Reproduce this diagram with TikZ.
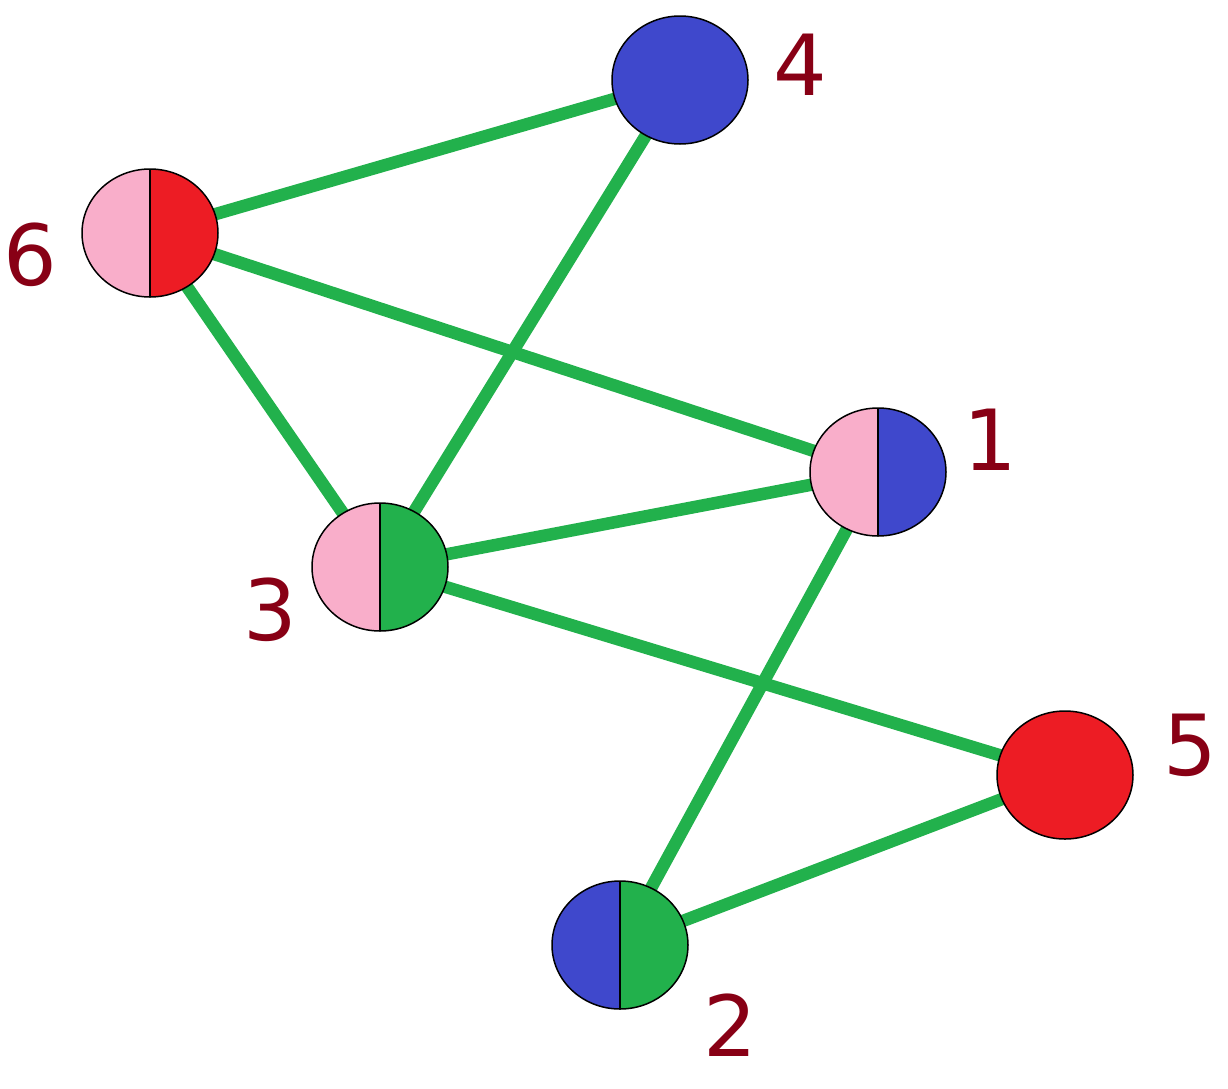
\documentclass[tikz,border=0pt]{standalone}
\usepackage{fontspec}
\setmainfont{DejaVu Sans}
\definecolor{pk}{HTML}{F9AECA}
\definecolor{rd}{HTML}{ED1C24}
\definecolor{bl}{HTML}{3F48CC}
\definecolor{gr}{HTML}{22B14C}
\definecolor{lb}{HTML}{880015}
\tikzset{edge/.style={gr,line width=0.25cm},
 lab/.style={text=lb,font=\fontsize{48}{48}\selectfont,inner sep=0pt},
 vx/.style={ellipse,minimum width=2.72cm,minimum height=2.56cm,inner sep=0pt}}
\usetikzlibrary{shapes.geometric}
\newcommand{\halfv}[4]{% name, pos, leftcolor, rightcolor
 \begin{scope}
 \clip (#2) ellipse (1.36cm and 1.28cm);
 \fill[#3] ($(#2)+(-1.4,-1.4)$) rectangle ($(#2)+(0,1.4)$);
 \fill[#4] ($(#2)+(0,-1.4)$) rectangle ($(#2)+(1.4,1.4)$);
 \draw[line width=0.05cm] ($(#2)+(0,-1.4)$) -- ($(#2)+(0,1.4)$);
 \end{scope}
 \draw[line width=0.03cm] (#2) ellipse (1.36cm and 1.28cm);}
\usetikzlibrary{calc}
\begin{document}
\begin{tikzpicture}
\useasboundingbox (0,0) rectangle (24.56,-21.76);
\node[vx] (n4) at (13.6,-1.6) {};
\node[vx] (n6) at (3.0,-4.66) {};
\node[vx] (n1) at (17.56,-9.44) {};
\node[vx] (n3) at (7.6,-11.34) {};
\node[vx] (n5) at (21.3,-15.5) {};
\node[vx] (n2) at (12.4,-18.9) {};
\draw[edge] (n6.center) -- (n4.center);
\draw[edge] (n6.center) -- (n1.center);
\draw[edge] (n6.center) -- (n3.center);
\draw[edge] (n4.center) -- (n3.center);
\draw[edge] (n3.center) -- (n1.center);
\draw[edge] (n3.center) -- (n5.center);
\draw[edge] (n1.center) -- (n2.center);
\draw[edge] (n2.center) -- (n5.center);
\draw[fill=bl,line width=0.03cm] (n4.center) ellipse (1.36cm and 1.28cm);
\draw[fill=rd,line width=0.03cm] (n5.center) ellipse (1.36cm and 1.28cm);
\halfv{a}{n6.center}{pk}{rd}
\halfv{b}{n1.center}{pk}{bl}
\halfv{c}{n3.center}{pk}{gr}
\halfv{d}{n2.center}{bl}{gr}
\node[lab] (l4) at (16.0,-1.3) {4};
\node[lab] (l6) at (0.6,-5.1) {6};
\node[lab] (l1) at (19.8,-8.8) {1};
\node[lab] (l3) at (5.4,-12.2) {3};
\node[lab] (l5) at (23.8,-14.9) {5};
\node[lab] (l2) at (14.6,-20.5) {2};
\end{tikzpicture}
\end{document}
